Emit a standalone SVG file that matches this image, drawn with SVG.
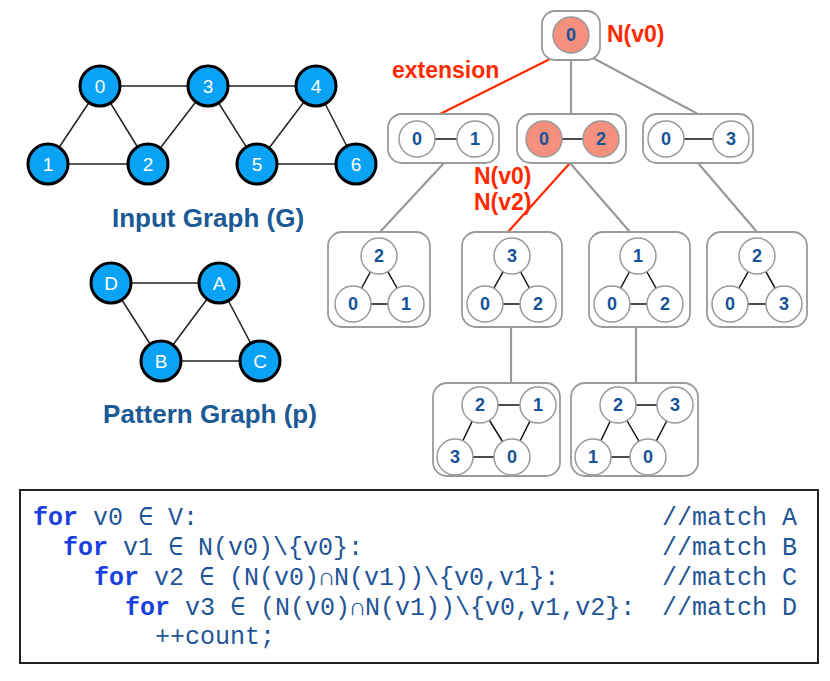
<svg xmlns="http://www.w3.org/2000/svg" width="830" height="681" viewBox="0 0 830 681">
<style>
.gn{fill:#0aa2f5;stroke:#000;stroke-width:3}
.gt{fill:#fff;font-family:"Liberation Sans",Arial,sans-serif;font-size:19px;text-anchor:middle}
.ge{stroke:#222;stroke-width:1.5}
.title{fill:#1b5a94;font-family:"Liberation Sans",Arial,sans-serif;font-size:26px;font-weight:bold;text-anchor:middle}
.box{fill:#fff;stroke:#9a9a9a;stroke-width:1.8}
.tc{fill:#fff;stroke:#9a9a9a;stroke-width:1.5}
.hc{fill:#f5907e;stroke:#9a9a9a;stroke-width:1.5}
.tt{fill:#175396;font-family:"Liberation Sans",Arial,sans-serif;font-size:18px;font-weight:bold;text-anchor:middle}
.te{stroke:#111;stroke-width:1.5}
.gc{stroke:#999;stroke-width:2.2;fill:none}
.rc{stroke:#ff2a00;stroke-width:2.2;fill:none}
.red{fill:#ff2a00;font-family:"Liberation Sans",Arial,sans-serif;font-size:23px;font-weight:bold}
.code{font-family:"Liberation Mono","DejaVu Sans Mono",monospace;font-size:25px;fill:#1f5596}
.kw{fill:#1a40e0;font-weight:bold}
</style>

<!-- Input graph -->
<g id="input-graph-edges">
<line class="ge" x1="100" y1="86" x2="208" y2="86"/>
<line class="ge" x1="208" y1="86" x2="316" y2="86"/>
<line class="ge" x1="100" y1="86" x2="48" y2="164"/>
<line class="ge" x1="100" y1="86" x2="148" y2="164"/>
<line class="ge" x1="48" y1="164" x2="148" y2="164"/>
<line class="ge" x1="148" y1="164" x2="208" y2="86"/>
<line class="ge" x1="208" y1="86" x2="257" y2="164"/>
<line class="ge" x1="316" y1="86" x2="257" y2="164"/>
<line class="ge" x1="316" y1="86" x2="356" y2="164"/>
<line class="ge" x1="257" y1="164" x2="356" y2="164"/>
</g>
<g id="g0"><circle class="gn" cx="100" cy="86" r="20"/><text class="gt" x="100" y="93">0</text></g>
<g id="g3"><circle class="gn" cx="208" cy="86" r="20"/><text class="gt" x="208" y="93">3</text></g>
<g id="g4"><circle class="gn" cx="316" cy="86" r="20"/><text class="gt" x="316" y="93">4</text></g>
<g id="g1"><circle class="gn" cx="48" cy="164" r="20"/><text class="gt" x="48" y="171">1</text></g>
<g id="g2"><circle class="gn" cx="148" cy="164" r="20"/><text class="gt" x="148" y="171">2</text></g>
<g id="g5"><circle class="gn" cx="257" cy="164" r="20"/><text class="gt" x="257" y="171">5</text></g>
<g id="g6"><circle class="gn" cx="356" cy="164" r="20"/><text class="gt" x="356" y="171">6</text></g>
<text class="title" x="208" y="227">Input Graph (G)</text>

<!-- Pattern graph -->
<g id="pattern-edges">
<line class="ge" x1="111" y1="283" x2="219" y2="283"/>
<line class="ge" x1="111" y1="283" x2="161" y2="361"/>
<line class="ge" x1="219" y1="283" x2="161" y2="361"/>
<line class="ge" x1="219" y1="283" x2="260" y2="361"/>
<line class="ge" x1="161" y1="361" x2="260" y2="361"/>
</g>
<g id="pD"><circle class="gn" cx="111" cy="283" r="20"/><text class="gt" x="111" y="290">D</text></g>
<g id="pA"><circle class="gn" cx="219" cy="283" r="20"/><text class="gt" x="219" y="290">A</text></g>
<g id="pB"><circle class="gn" cx="161" cy="361" r="20"/><text class="gt" x="161" y="368">B</text></g>
<g id="pC"><circle class="gn" cx="260" cy="361" r="20"/><text class="gt" x="260" y="368">C</text></g>
<text class="title" x="210" y="423">Pattern Graph (p)</text>

<!-- Tree connectors -->
<g id="connectors">
<line class="rc" x1="552" y1="58" x2="440" y2="114"/>
<line class="gc" x1="571" y1="60" x2="571" y2="114"/>
<line class="gc" x1="593" y1="58" x2="698" y2="114"/>
<line class="gc" x1="444" y1="163" x2="380" y2="232"/>
<line class="rc" x1="570" y1="163" x2="508" y2="232"/>
<line class="gc" x1="570" y1="163" x2="630" y2="232"/>
<line class="gc" x1="698" y1="163" x2="757" y2="232"/>
<line class="gc" x1="511" y1="327" x2="511" y2="383"/>
<line class="gc" x1="636" y1="327" x2="636" y2="383"/>
</g>
<text class="red" x="392" y="78">extension</text>
<text class="red" x="607" y="42">N(v0)</text>
<text class="red" x="474" y="184">N(v0)</text>
<text class="red" x="474" y="210">N(v2)</text>

<!-- Root -->
<g id="t-root">
<rect class="box" x="542" y="11" width="58" height="49" rx="13"/>
<circle class="hc" cx="571" cy="35" r="18"/><text class="tt" x="571" y="41">0</text>
</g>

<!-- Level 1 -->
<g id="t-01">
<rect class="box" x="388" y="114" width="111" height="49" rx="14"/>
<line class="te" x1="417" y1="139" x2="475" y2="139"/>
<circle class="tc" cx="417" cy="139" r="18"/><text class="tt" x="417" y="145">0</text>
<circle class="tc" cx="475" cy="139" r="18"/><text class="tt" x="475" y="145">1</text>
</g>
<g id="t-02">
<rect class="box" x="517" y="114" width="109" height="49" rx="14"/>
<line class="te" x1="544" y1="139" x2="601" y2="139"/>
<circle class="hc" cx="544" cy="139" r="18"/><text class="tt" x="544" y="145">0</text>
<circle class="hc" cx="601" cy="139" r="18"/><text class="tt" x="601" y="145">2</text>
</g>
<g id="t-03">
<rect class="box" x="643" y="114" width="110" height="49" rx="14"/>
<line class="te" x1="666" y1="139" x2="731" y2="139"/>
<circle class="tc" cx="666" cy="139" r="18"/><text class="tt" x="666" y="145">0</text>
<circle class="tc" cx="731" cy="139" r="18"/><text class="tt" x="731" y="145">3</text>
</g>

<!-- Level 2 -->
<g id="t-012">
<rect class="box" x="328" y="232" width="102" height="95" rx="14"/>
<line class="te" x1="379" y1="256" x2="353" y2="304"/>
<line class="te" x1="379" y1="256" x2="406" y2="304"/>
<line class="te" x1="353" y1="304" x2="406" y2="304"/>
<circle class="tc" cx="379" cy="256" r="18"/><text class="tt" x="379" y="262">2</text>
<circle class="tc" cx="353" cy="304" r="18"/><text class="tt" x="353" y="310">0</text>
<circle class="tc" cx="406" cy="304" r="18"/><text class="tt" x="406" y="310">1</text>
</g>
<g id="t-023">
<rect class="box" x="462" y="232" width="100" height="95" rx="14"/>
<line class="te" x1="512" y1="256" x2="485" y2="304"/>
<line class="te" x1="512" y1="256" x2="538" y2="304"/>
<line class="te" x1="485" y1="304" x2="538" y2="304"/>
<circle class="tc" cx="512" cy="256" r="18"/><text class="tt" x="512" y="262">3</text>
<circle class="tc" cx="485" cy="304" r="18"/><text class="tt" x="485" y="310">0</text>
<circle class="tc" cx="538" cy="304" r="18"/><text class="tt" x="538" y="310">2</text>
</g>
<g id="t-021">
<rect class="box" x="589" y="232" width="101" height="95" rx="14"/>
<line class="te" x1="638" y1="256" x2="612" y2="304"/>
<line class="te" x1="638" y1="256" x2="665" y2="304"/>
<line class="te" x1="612" y1="304" x2="665" y2="304"/>
<circle class="tc" cx="638" cy="256" r="18"/><text class="tt" x="638" y="262">1</text>
<circle class="tc" cx="612" cy="304" r="18"/><text class="tt" x="612" y="310">0</text>
<circle class="tc" cx="665" cy="304" r="18"/><text class="tt" x="665" y="310">2</text>
</g>
<g id="t-032">
<rect class="box" x="707" y="232" width="100" height="95" rx="14"/>
<line class="te" x1="757" y1="256" x2="730" y2="304"/>
<line class="te" x1="757" y1="256" x2="784" y2="304"/>
<line class="te" x1="730" y1="304" x2="784" y2="304"/>
<circle class="tc" cx="757" cy="256" r="18"/><text class="tt" x="757" y="262">2</text>
<circle class="tc" cx="730" cy="304" r="18"/><text class="tt" x="730" y="310">0</text>
<circle class="tc" cx="784" cy="304" r="18"/><text class="tt" x="784" y="310">3</text>
</g>

<!-- Level 3 -->
<g id="t-0231">
<rect class="box" x="433" y="383" width="127" height="93" rx="14"/>
<line class="te" x1="480" y1="405" x2="538" y2="405"/>
<line class="te" x1="480" y1="405" x2="455" y2="457"/>
<line class="te" x1="480" y1="405" x2="512" y2="457"/>
<line class="te" x1="538" y1="405" x2="512" y2="457"/>
<line class="te" x1="455" y1="457" x2="512" y2="457"/>
<circle class="tc" cx="480" cy="405" r="18"/><text class="tt" x="480" y="411">2</text>
<circle class="tc" cx="538" cy="405" r="18"/><text class="tt" x="538" y="411">1</text>
<circle class="tc" cx="455" cy="457" r="18"/><text class="tt" x="455" y="463">3</text>
<circle class="tc" cx="512" cy="457" r="18"/><text class="tt" x="512" y="463">0</text>
</g>
<g id="t-0213">
<rect class="box" x="571" y="383" width="127" height="93" rx="14"/>
<line class="te" x1="618" y1="405" x2="675" y2="405"/>
<line class="te" x1="618" y1="405" x2="593" y2="457"/>
<line class="te" x1="618" y1="405" x2="648" y2="457"/>
<line class="te" x1="675" y1="405" x2="648" y2="457"/>
<line class="te" x1="593" y1="457" x2="648" y2="457"/>
<circle class="tc" cx="618" cy="405" r="18"/><text class="tt" x="618" y="411">2</text>
<circle class="tc" cx="675" cy="405" r="18"/><text class="tt" x="675" y="411">3</text>
<circle class="tc" cx="593" cy="457" r="18"/><text class="tt" x="593" y="463">1</text>
<circle class="tc" cx="648" cy="457" r="18"/><text class="tt" x="648" y="463">0</text>
</g>

<!-- Code -->
<g id="code">
<rect x="20" y="490" width="798" height="173" fill="#fff" stroke="#222" stroke-width="2"/>
<text class="code" x="33" y="525" xml:space="preserve"><tspan class="kw">for</tspan> v0 ∈ V:</text>
<text class="code" x="63" y="555" xml:space="preserve"><tspan class="kw">for</tspan> v1 ∈ N(v0)\{v0}:</text>
<text class="code" x="94" y="585" xml:space="preserve"><tspan class="kw">for</tspan> v2 ∈ (N(v0)∩N(v1))\{v0,v1}:</text>
<text class="code" x="125" y="615" xml:space="preserve"><tspan class="kw">for</tspan> v3 ∈ (N(v0)∩N(v1))\{v0,v1,v2}:</text>
<text class="code" x="155" y="644">++count;</text>
<text class="code" x="662" y="525">//match A</text>
<text class="code" x="662" y="555">//match B</text>
<text class="code" x="662" y="585">//match C</text>
<text class="code" x="662" y="615">//match D</text>
</g>
</svg>
